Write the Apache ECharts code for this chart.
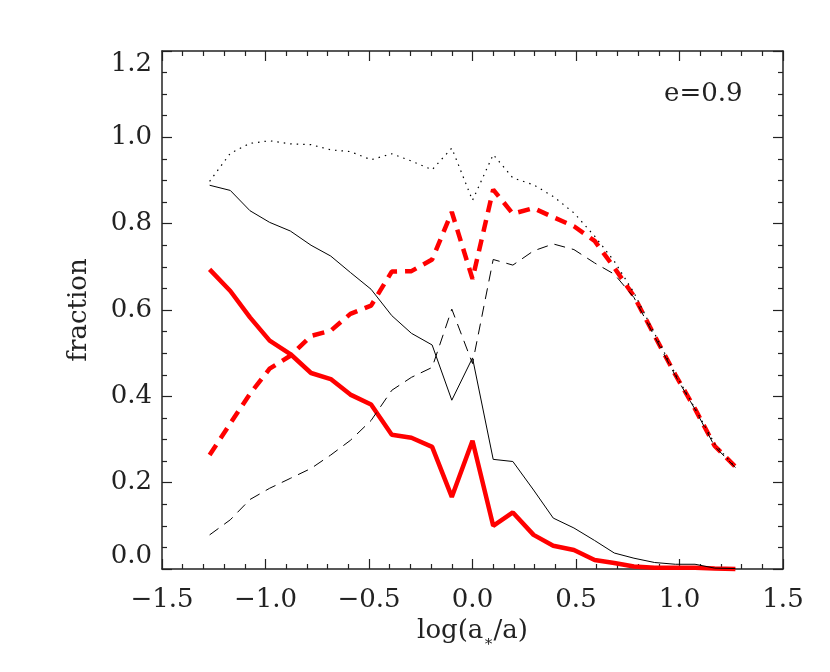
<!DOCTYPE html>
<html>
<head>
<meta charset="utf-8">
<script src="https://cdn.jsdelivr.net/npm/echarts@6/dist/echarts.min.js"></script>
<style>
  html, body { margin: 0; padding: 0; background: #fff; }
  #chart { width: 830px; height: 672px; }
</style>
</head>
<body>
<div id="chart"></div>
<script>
// x positions of the samples, log(a*/a)
const xs = [-1.27, -1.17, -1.075, -0.98, -0.88, -0.78, -0.685, -0.59, -0.49, -0.39, -0.295, -0.195, -0.1, 0,
            0.1, 0.195, 0.295, 0.39, 0.49, 0.59, 0.685, 0.78, 0.88, 0.98, 1.075, 1.17, 1.27];
// black thin lines
const blackSolid = [0.889, 0.877, 0.830, 0.803, 0.783, 0.750, 0.725, 0.687, 0.648, 0.587, 0.546, 0.519, 0.391, 0.489,
                    0.254, 0.249, 0.183, 0.118, 0.095, 0.066, 0.037, 0.025, 0.015, 0.011, 0.011, 0.002, 0.001];
const blackDotted = [0.898, 0.963, 0.986, 0.992, 0.985, 0.983, 0.971, 0.967, 0.948, 0.962, 0.945, 0.925, 0.975, 0.854,
                     0.960, 0.906, 0.890, 0.863, 0.825, 0.771, 0.713, 0.640, 0.545, 0.452, 0.372, 0.290, 0.235];
const blackDashed = [0.079, 0.114, 0.161, 0.187, 0.210, 0.233, 0.264, 0.298, 0.344, 0.414, 0.444, 0.467, 0.602, 0.476,
                     0.717, 0.704, 0.737, 0.753, 0.740, 0.709, 0.683, 0.629, 0.538, 0.448, 0.370, 0.284, 0.235];
// red thick lines
const redSolid = [0.694, 0.644, 0.583, 0.529, 0.498, 0.454, 0.440, 0.404, 0.381, 0.311, 0.304, 0.283, 0.167, 0.297,
                  0.100, 0.131, 0.079, 0.054, 0.044, 0.021, 0.014, 0.006, 0.003, 0.003, 0.003, 0.001, 0.0];
const redDashed = [0.264, 0.337, 0.406, 0.464, 0.494, 0.540, 0.552, 0.591, 0.610, 0.689, 0.690, 0.717, 0.827, 0.672,
                   0.879, 0.823, 0.836, 0.815, 0.794, 0.760, 0.698, 0.632, 0.540, 0.450, 0.371, 0.285, 0.237];

const FONT = 'DejaVu Serif';
const INK = '#222';

function pairs(ys) {
    return xs.map((x, i) => [x, ys[i]]);
}

const chart = echarts.init(document.getElementById('chart'));

// shared axis look: box with inward ticks on every side
const axisLine = { show: true, onZero: false, lineStyle: { color: INK, width: 1.5 } };
const axisTick = { show: true, inside: true, length: 10, lineStyle: { color: INK, width: 1.2 } };
const minorTickStyle = { color: INK, width: 1.2 };

const option = {
    animation: false,
    grid: { left: 162, right: 47, top: 51, bottom: 103 },
    xAxis: [
        {
            type: 'value', position: 'bottom', min: -1.5, max: 1.5, interval: 0.5,
            axisLine, axisTick,
            minorTick: { show: true, splitNumber: 5, length: 5, lineStyle: minorTickStyle },
            splitLine: { show: false },
            axisLabel: {
                margin: 18, color: INK, fontFamily: FONT, fontSize: 26,
                formatter: v => v.toFixed(1).replace('-', '\u2212')
            },
            name: 'log(a{s|\u2217}/a)',
            nameLocation: 'middle', nameGap: 42,
            nameTextStyle: {
                color: INK, fontFamily: FONT, fontSize: 26,
                rich: { s: { fontFamily: FONT, fontSize: 15, color: INK, verticalAlign: 'bottom', padding: [0, 0, -6, 0] } }
            }
        },
        {
            type: 'value', position: 'top', min: -1.5, max: 1.5, interval: 0.5,
            axisLine, axisTick,
            minorTick: { show: true, splitNumber: 5, length: 5, lineStyle: minorTickStyle },
            splitLine: { show: false },
            axisLabel: { show: false }
        }
    ],
    yAxis: [
        {
            type: 'value', position: 'left', min: 0, max: 1.2, interval: 0.2,
            axisLine, axisTick,
            minorTick: { show: true, splitNumber: 4, length: 5, lineStyle: minorTickStyle },
            splitLine: { show: false },
            axisLabel: {
                margin: 10, color: INK, fontFamily: FONT, fontSize: 26,
                verticalAlignMinLabel: 'bottom', verticalAlignMaxLabel: 'top',
                formatter: v => v.toFixed(1)
            },
            name: 'fraction',
            nameLocation: 'middle', nameGap: 70, nameRotate: 90,
            nameTextStyle: { color: INK, fontFamily: FONT, fontSize: 26 }
        },
        {
            type: 'value', position: 'right', min: 0, max: 1.2, interval: 0.2,
            axisLine, axisTick,
            minorTick: { show: true, splitNumber: 4, length: 5, lineStyle: minorTickStyle },
            splitLine: { show: false },
            axisLabel: { show: false }
        }
    ],
    graphic: [
        {
            type: 'text', left: 664, top: 81,
            style: { text: 'e=0.9', fill: INK, font: '26px "DejaVu Serif"' }
        }
    ],
    series: [
        {
            name: 'red solid', type: 'line', data: pairs(redSolid), showSymbol: false, clip: false,
            lineStyle: { color: '#ff0000', width: 4.5 }, z: 2
        },
        {
            name: 'red dashed', type: 'line', data: pairs(redDashed), showSymbol: false,
            lineStyle: { color: '#ff0000', width: 4.5, type: [12, 8] }, z: 2
        },
        {
            name: 'black solid', type: 'line', data: pairs(blackSolid), showSymbol: false,
            lineStyle: { color: '#000', width: 1 }, z: 3
        },
        {
            name: 'black dotted', type: 'line', data: pairs(blackDotted), showSymbol: false,
            lineStyle: { color: '#000', width: 1.2, type: [1.5, 5] }, z: 3
        },
        {
            name: 'black dashed', type: 'line', data: pairs(blackDashed), showSymbol: false,
            lineStyle: { color: '#000', width: 1, type: [11, 7] }, z: 3
        }
    ]
};

chart.setOption(option);
window.addEventListener('resize', () => {
    chart.resize();
});
</script>
</body>
</html>
